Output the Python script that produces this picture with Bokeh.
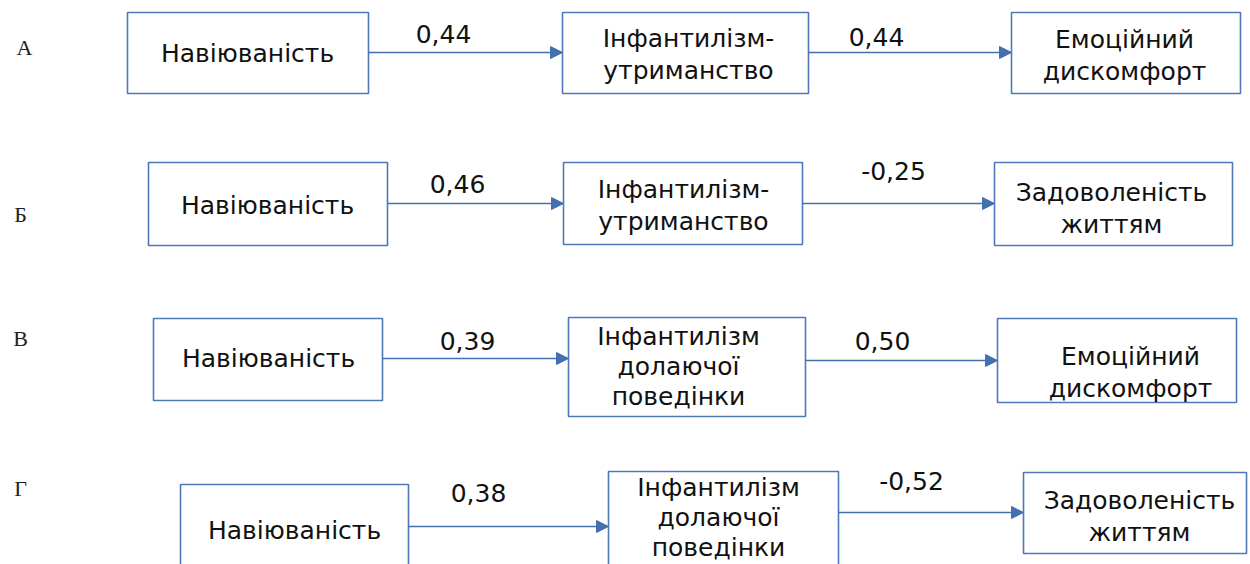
from bokeh.plotting import figure
from bokeh.models import Range1d, Arrow, NormalHead, ColumnDataSource
from bokeh.core.properties import value
from bokeh.embed import file_html
from bokeh.resources import INLINE

# ---- data ----
panel_labels = ["А", "Б", "В", "Г"]
predictor = ["Навіюваність", "Навіюваність", "Навіюваність", "Навіюваність"]
mediator = ["Інфантилізм-\nутриманство", "Інфантилізм-\nутриманство",
            "Інфантилізм\nдолаючої\nповедінки", "Інфантилізм\nдолаючої\nповедінки"]
outcome = ["Емоційний\nдискомфорт", "Задоволеність\nжиттям",
           "Емоційний\nдискомфорт", "Задоволеність\nжиттям"]
coef_a = [0.44, 0.46, 0.39, 0.38]
coef_b = [0.44, -0.25, 0.50, -0.52]

def fmt(v):
    return ("%.2f" % v).replace(".", ",")

# ---- layout (pixel positions of the diagram) ----
b1_left = [127, 148, 153, 180]
b1_right = [368, 387, 382, 408]
b1_top = [12, 162, 318, 484]
b1_bot = [93, 245, 400, 568]

b2_left = [562, 563, 568, 608]
b2_right = [808, 802, 805, 838]
b2_top = [12, 162, 317, 471]
b2_bot = [93, 244, 416, 572]

b3_left = [1011, 994, 997, 1023]
b3_right = [1240, 1232, 1236, 1246]
b3_top = [12, 162, 318, 472]
b3_bot = [93, 245, 402, 553]

arrow_a_y = [52, 203, 358, 526]
arrow_b_y = [52, 203, 360, 512]

t1_x = [247, 267, 268, 294]
t1_y = [53, 205, 358, 530]
t2_x = [688, 683, 678, 718]
t2_y = [54, 205, 366, 517]
t3_x = [1124, 1111, 1130, 1139]
t3_y = [55, 208, 372, 516]

ca_x = [443, 457, 467, 478]
ca_y = [33, 183, 340, 492]
cb_x = [876, 893, 882, 911]
cb_y = [36, 170, 340, 480]

lab_x = [24, 20, 20, 20]
lab_y = [47, 214, 338, 488]

BOX = "#4f77b9"
ARROW = "#4470b0"
FONT = value("DejaVu Sans")

W, H = 1250, 564
p = figure(width=W, height=H, x_range=Range1d(0, W), y_range=Range1d(H, 0),
           output_backend="svg", toolbar_location=None, min_border=0)
p.axis.visible = False
p.grid.visible = False
p.outline_line_color = None
p.background_fill_color = "white"
p.border_fill_color = "white"

for L, R, T, B in [(b1_left, b1_right, b1_top, b1_bot),
                   (b2_left, b2_right, b2_top, b2_bot),
                   (b3_left, b3_right, b3_top, b3_bot)]:
    p.quad(left=L, right=R, top=T, bottom=B, fill_color=None,
           line_color=BOX, line_width=1.6)

src_a = ColumnDataSource(dict(x0=b1_right, x1=b2_left, y=arrow_a_y))
src_b = ColumnDataSource(dict(x0=b2_right, x1=b3_left, y=arrow_b_y))
for src in (src_a, src_b):
    p.add_layout(Arrow(x_start="x0", y_start="y", x_end="x1", y_end="y", source=src,
                       line_color=ARROW, line_width=1.6,
                       end=NormalHead(size=12, fill_color=ARROW, line_color=ARROW, line_width=1)))

common = dict(text_font=FONT, text_font_size="25px", text_align="center",
              text_baseline="middle", text_color="#111111")
p.text(x=t1_x, y=t1_y, text=predictor, text_line_height=1.13, **common)
# two-line mediators (rows А, Б) and three-line mediators (rows В, Г)
p.text(x=t2_x[:2], y=t2_y[:2], text=mediator[:2], text_line_height=1.13, **common)
p.text(x=t2_x[2:], y=t2_y[2:], text=mediator[2:], text_line_height=1.05, **common)
p.text(x=t3_x, y=t3_y, text=outcome, text_line_height=1.13, **common)
p.text(x=ca_x, y=ca_y, text=[fmt(v) for v in coef_a], **common)
p.text(x=cb_x, y=cb_y, text=[fmt(v) for v in coef_b], **common)

p.text(x=lab_x, y=lab_y, text=panel_labels, text_font=value("Liberation Serif"),
       text_font_size="22px", text_align="center", text_baseline="middle",
       text_color="#222222")

open("out.html", "w").write(file_html(p, INLINE))
